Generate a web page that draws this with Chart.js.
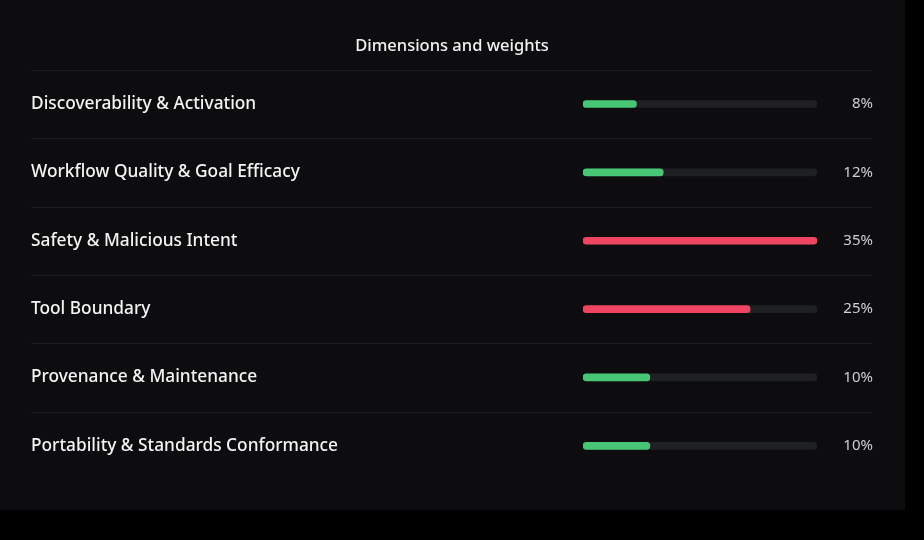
<!DOCTYPE html>
<html>
<head>
<meta charset="utf-8">
<script src="https://cdn.jsdelivr.net/npm/chart.js@4/dist/chart.umd.min.js"></script>
<style>
  html, body { margin: 0; padding: 0; background: #000; }
  #card { position: absolute; left: 0; top: 0; width: 905px; height: 510px; background: #0d0d0f; }
  canvas { display: block; }
</style>
</head>
<body>
<div id="card"><canvas id="c" width="905" height="510"></canvas></div>
<script>
const categories = [
  "Discoverability & Activation",
  "Workflow Quality & Goal Efficacy",
  "Safety & Malicious Intent",
  "Tool Boundary",
  "Provenance & Maintenance",
  "Portability & Standards Conformance"
];
const weights = [8, 12, 35, 25, 10, 10];
const highlight = [false, false, true, true, false, false];
const maxWeight = 35;
const trackValues = categories.map(() => maxWeight);

const GREEN = "#47c775";
const RED = "#ef4560";
const FONT = "'Noto Sans', sans-serif";

const separators = {
  id: "separators",
  beforeDatasetsDraw(chart) {
    const ctx = chart.ctx;
    const y = chart.scales.y;
    const left = 31, right = 872;
    ctx.save();
    ctx.strokeStyle = "#1d1d21";
    ctx.lineWidth = 1;
    for (let i = 0; i < categories.length; i++) {
      const py = Math.round((y.getPixelForValue(i - 0.5))) + 0.5;
      ctx.beginPath();
      ctx.moveTo(left, py);
      ctx.lineTo(right, py);
      ctx.stroke();
    }
    ctx.restore();
  }
};

new Chart(document.getElementById("c"), {
  type: "bar",
  data: {
    labels: categories,
    datasets: [
      {
        data: weights,
        backgroundColor: highlight.map(h => h ? RED : GREEN),
        borderRadius: 4,
        borderSkipped: false,
        barThickness: 7,
        grouped: false,
        order: 1
      },
      {
        data: trackValues,
        backgroundColor: "#1f2023",
        borderRadius: 4,
        borderSkipped: false,
        barThickness: 7,
        grouped: false,
        order: 2
      }
    ]
  },
  options: {
    indexAxis: "y",
    responsive: false,
    animation: false,
    events: [],
    layout: { padding: { left: 31, right: 32, top: 0, bottom: 30 } },
    plugins: {
      legend: { display: false },
      tooltip: { enabled: false },
      title: {
        display: true,
        text: "Dimensions and weights",
        color: "#f2f2f2",
        font: { family: FONT, size: 16.5, weight: "500" },
        padding: { top: 36, bottom: 14 }
      }
    },
    scales: {
      x: {
        display: false,
        min: 0,
        max: maxWeight
      },
      y: {
        position: "left",
        afterFit(scale) { scale.width = 552; },
        grid: { display: false, drawTicks: false },
        border: { display: false },
        ticks: {
          crossAlign: "far",
          padding: 0,
          color: "#f4f4f4",
          font: { family: FONT, size: 17.3, weight: "500" }
        }
      },
      y2: {
        position: "right",
        type: "category",
        labels: weights.map(w => w + "%"),
        afterFit(scale) { scale.width = 56; },
        grid: { display: false, drawTicks: false },
        border: { display: false },
        ticks: {
          crossAlign: "far",
          padding: 0,
          color: "#cfcfd2",
          font: { family: FONT, size: 15 }
        }
      }
    }
  },
  plugins: [separators]
});
</script>
</body>
</html>
